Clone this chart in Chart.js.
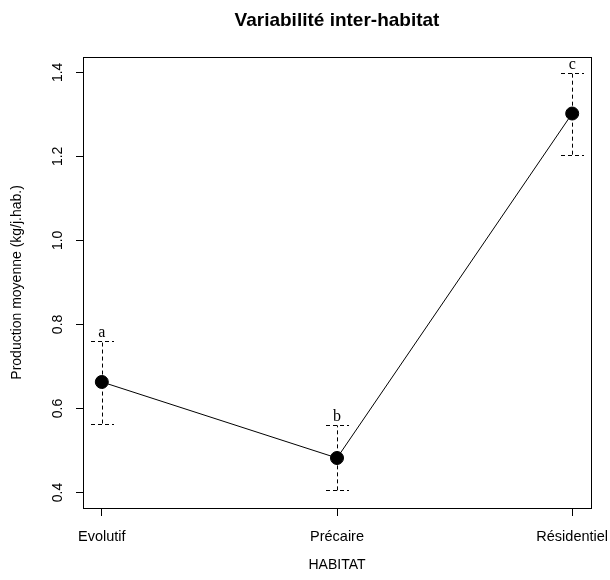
<!DOCTYPE html>
<html>
<head>
<meta charset="utf-8">
<script src="https://cdn.jsdelivr.net/npm/chart.js@4/dist/chart.umd.min.js"></script>
<style>
  html, body { margin: 0; padding: 0; background: #fff; }
  #wrap { width: 610px; height: 580px; }
</style>
</head>
<body>
<div id="wrap"><canvas id="myChart" width="610" height="580"></canvas></div>
<script>
// data
const habitats = ["Evolutif", "Précaire", "Résidentiel"];
const means = [0.663, 0.482, 1.302];
const lower = [0.564, 0.405, 1.204];
const upper = [0.760, 0.5595, 1.399];
const letters = ["a", "b", "c"];
const yTicks = [0.4, 0.6, 0.8, 1.0, 1.2, 1.4];
const yTickLabels = ["0.4", "0.6", "0.8", "1.0", "1.2", "1.4"];

const sans = "'Liberation Sans', Arial, sans-serif";
const serif = "'Liberation Serif', 'Times New Roman', serif";

// dashed error bars, letters and the box around the plot
const rPlotExtras = {
    id: "rPlotExtras",
    afterDatasetsDraw(chart) {
        const ctx = chart.ctx;
        const xs = chart.scales.x, ys = chart.scales.y;
        ctx.save();
        ctx.strokeStyle = "#000";
        ctx.lineWidth = 1;
        ctx.setLineDash([4, 3]);
        habitats.forEach((h, i) => {
            const px = Math.round(xs.getPixelForValue(i + 1)) + 0.5;
            const yl = ys.getPixelForValue(lower[i]);
            const yu = ys.getPixelForValue(upper[i]);
            ctx.beginPath();
            ctx.moveTo(px, yl);
            ctx.lineTo(px, yu);
            ctx.moveTo(px - 11.5, Math.round(yu) + 0.5);
            ctx.lineTo(px + 11.5, Math.round(yu) + 0.5);
            ctx.moveTo(px - 11.5, Math.round(yl) + 0.5);
            ctx.lineTo(px + 11.5, Math.round(yl) + 0.5);
            ctx.stroke();
        });
        ctx.setLineDash([]);
        ctx.fillStyle = "#000";
        ctx.font = "16px " + serif;
        ctx.textAlign = "center";
        ctx.textBaseline = "alphabetic";
        letters.forEach((l, i) => {
            const px = xs.getPixelForValue(i + 1);
            const yu = ys.getPixelForValue(upper[i]);
            ctx.fillText(l, px, yu - 4);
        });
        const a = chart.chartArea;
        ctx.strokeRect(Math.round(a.left) + 0.5, Math.round(a.top) + 0.5,
            Math.round(a.right - a.left), Math.round(a.bottom - a.top));
        ctx.restore();
    }
};

const ctx = document.getElementById("myChart").getContext("2d");
const chart = new Chart(ctx, {
    type: "line",
    data: {
        datasets: [{
            data: means.map((m, i) => ({ x: i + 1, y: m })),
            borderColor: "#000",
            borderWidth: 1,
            pointRadius: 6.5,
            pointBackgroundColor: "#000",
            pointBorderColor: "#000",
            pointBorderWidth: 1,
            tension: 0,
            clip: false
        }]
    },
    options: {
        responsive: false,
        animation: false,
        layout: { padding: { left: 0, right: 19, top: 0, bottom: 0 } },
        plugins: {
            legend: { display: false },
            tooltip: { enabled: false },
            title: {
                display: true,
                text: "Variabilité inter-habitat",
                fullSize: false,
                color: "#000",
                font: { family: sans, size: 19, weight: "bold" },
                padding: { top: 9, bottom: 25 }
            }
        },
        scales: {
            x: {
                type: "linear",
                min: 0.92,
                max: 3.08,
                afterBuildTicks: (s) => { s.ticks = habitats.map((h, i) => ({ value: i + 1 })); },
                afterFit: (s) => { s.height = 72; s.paddingLeft = 0; s.paddingRight = 0; },
                ticks: {
                    callback: (v) => habitats[v - 1],
                    color: "#000",
                    font: { family: sans, size: 14.5 },
                    padding: 12,
                    maxRotation: 0,
                    autoSkip: false
                },
                grid: { drawOnChartArea: false, drawTicks: true, tickLength: 8, color: "#000" },
                border: { display: false },
                title: {
                    display: true,
                    text: "HABITAT",
                    color: "#000",
                    font: { family: sans, size: 14 },
                    padding: { top: 0, bottom: 6 }
                }
            },
            y: {
                type: "linear",
                min: 0.363,
                max: 1.437,
                afterBuildTicks: (s) => { s.ticks = yTicks.map(v => ({ value: v })); },
                afterFit: (s) => { s.width = 83; },
                ticks: {
                    callback: (v) => yTickLabels[yTicks.indexOf(v)],
                    color: "#000",
                    font: { family: sans, size: 14 },
                    minRotation: 90,
                    maxRotation: 90,
                    crossAlign: "center",
                    padding: 8,
                    autoSkip: false
                },
                grid: { drawOnChartArea: false, drawTicks: true, tickLength: 7, color: "#000" },
                border: { display: false },
                title: {
                    display: true,
                    text: "Production moyenne (kg/j.hab.)",
                    color: "#000",
                    font: { family: sans, size: 14 },
                    padding: { top: 9, bottom: 0 }
                }
            }
        }
    },
    plugins: [rPlotExtras]
});
</script>
</body>
</html>
